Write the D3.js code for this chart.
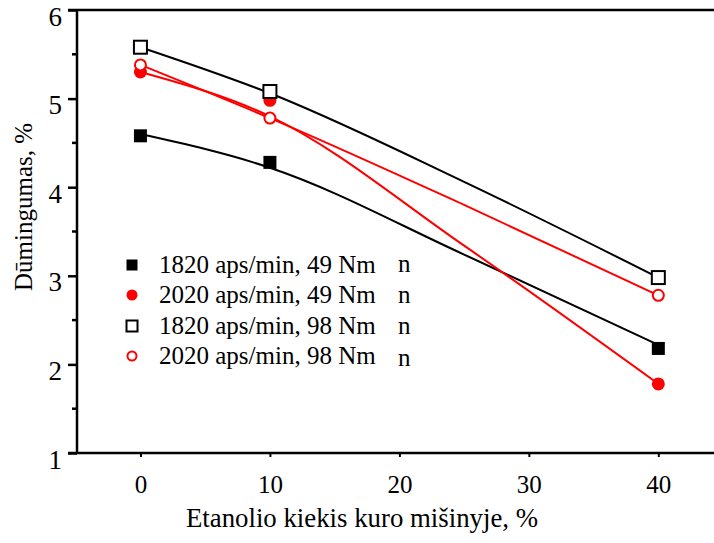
<!DOCTYPE html>
<html>
<head>
<meta charset="utf-8">
<script src="https://cdn.jsdelivr.net/npm/d3@7"></script>
<style>
  html, body { margin: 0; padding: 0; background: #fff; }
  svg { display: block; }
</style>
</head>
<body>
<svg id="chart" width="714" height="543" font-family="Liberation Serif"></svg>
<script>
// Ethanol share in the fuel blend, %
const ethanol = [0, 10, 40];

// Measured smoke opacity, %
const smoke1820_49 = [4.58, 4.28, 2.18];
const smoke2020_49 = [5.30, 4.98, 1.78];
const smoke1820_98 = [5.58, 5.08, 2.98];
const smoke2020_98 = [5.38, 4.78, 2.78];

// Smoothed trend values for each series
const trendEthanol = [0, 10, 25, 40];
const trend1820_49 = [4.60, 4.22, 3.24, 2.22];
const trend2020_49 = [5.30, 4.80, 3.34, 1.78];
const trend1820_98 = [5.58, 5.06, 4.06, 2.98];
const trend2020_98 = [5.38, 4.78, 3.80, 2.78];

const seriesLabels = [
  "1820 aps/min, 49 Nm",
  "2020 aps/min, 49 Nm",
  "1820 aps/min, 98 Nm",
  "2020 aps/min, 98 Nm"
];
const xTicks = [0, 10, 20, 30, 40];
const yTicks = [1, 2, 3, 4, 5, 6];
const yMinorTicks = [1.5, 2.5, 3.5, 4.5, 5.5];
const xTitle = "Etanolio kiekis kuro mišinyje, %";
const yTitle = "Dūmingumas, %";

const FONT = "Liberation Serif";

const series = [
  { values: smoke1820_49, trend: trend1820_49, color: "#000", shape: "square", filled: true },
  { values: smoke2020_49, trend: trend2020_49, color: "#ff0000", shape: "circle", filled: true },
  { values: smoke1820_98, trend: trend1820_98, color: "#000", shape: "square", filled: false },
  { values: smoke2020_98, trend: trend2020_98, color: "#ff0000", shape: "circle", filled: false }
];

const svg = d3.select("#chart");

const x = d3.scaleLinear().domain([-4.9, 44.3]).range([77, 714]);
const y = d3.scaleLinear().domain([1, 6]).range([453, 10]);
const axisLeft = x.range()[0];
const axisRight = x.range()[1];

// Frame: left axis and top rule
const frame = svg.append("g").attr("stroke", "#000").attr("stroke-width", 2.5).attr("fill", "none");
frame.append("line").attr("x1", axisLeft).attr("x2", axisLeft).attr("y1", y(6)).attr("y2", y(1));
frame.append("line").attr("x1", axisLeft - 9).attr("x2", axisRight).attr("y1", y(6)).attr("y2", y(6));

// Y axis with major ticks
const yAxis = svg.append("g")
  .attr("transform", `translate(${axisLeft},0)`)
  .call(d3.axisLeft(y).tickValues(yTicks).tickFormat(d3.format("d"))
    .tickSize(9).tickSizeOuter(0).tickPadding(6));
yAxis.attr("font-family", FONT).attr("font-size", 27);
yAxis.select(".domain").remove();
yAxis.selectAll(".tick line").attr("stroke-width", 2.5);
yAxis.selectAll(".tick text")
  .attr("font-family", FONT)
  .attr("font-size", 27)
  .attr("fill", "#000")
  .attr("dy", 15);

// Y minor ticks
svg.append("g").selectAll("line").data(yMinorTicks).join("line")
  .attr("x1", axisLeft - 5).attr("x2", axisLeft)
  .attr("y1", d => y(d)).attr("y2", d => y(d))
  .attr("stroke", "#000").attr("stroke-width", 2.5);

// X axis along the bottom
const xAxis = svg.append("g")
  .attr("transform", `translate(0,${y(1)})`)
  .call(d3.axisBottom(x).tickValues(xTicks).tickFormat(d3.format("d"))
    .tickSize(4).tickSizeOuter(0).tickPadding(18));
xAxis.attr("font-family", FONT).attr("font-size", 25);
xAxis.select(".domain").attr("stroke-width", 2.5)
  .attr("d", `M${axisLeft - 9},0H${axisRight}`);
xAxis.selectAll(".tick line").attr("stroke-width", 2);
xAxis.selectAll(".tick text")
  .attr("font-family", FONT)
  .attr("font-size", 25)
  .attr("fill", "#000")
  .attr("dy", "0.71em");

// Axis titles
svg.append("text")
  .attr("x", 362).attr("y", 527)
  .attr("text-anchor", "middle")
  .attr("font-family", FONT)
  .attr("font-size", 26.8)
  .text(xTitle);
svg.append("text")
  .attr("transform", "translate(32,207) rotate(-90)")
  .attr("text-anchor", "middle")
  .attr("font-family", FONT)
  .attr("font-size", 25)
  .text(yTitle);

// Trend curves
const line = d3.line()
  .x((d, i) => x(trendEthanol[i]))
  .y(d => y(d))
  .curve(d3.curveMonotoneX);
svg.append("g").selectAll("path").data(series).join("path")
  .attr("d", s => line(s.trend))
  .attr("fill", "none")
  .attr("stroke", s => s.color)
  .attr("stroke-width", 2);

// Markers
function drawMarker(g, s, cx, cy, size) {
  if (s.shape === "square") {
    g.append("rect")
      .attr("x", cx - size / 2).attr("y", cy - size / 2)
      .attr("width", size).attr("height", size)
      .attr("fill", s.filled ? s.color : "#fff")
      .attr("stroke", s.color)
      .attr("stroke-width", s.filled ? 0 : 2);
  } else {
    g.append("circle")
      .attr("cx", cx).attr("cy", cy)
      .attr("r", s.filled ? size / 2 : size / 2 - 1)
      .attr("fill", s.filled ? s.color : "#fff")
      .attr("stroke", s.color)
      .attr("stroke-width", s.filled ? 0 : 2);
  }
}
const markers = svg.append("g");
series.forEach(s => {
  s.values.forEach((v, i) => drawMarker(markers, s, x(ethanol[i]), y(v), 13));
});

// Legend
const legendRows = [265, 295, 326, 356];
const legend = svg.append("g").attr("font-family", FONT).attr("font-size", 25);
series.forEach((s, i) => {
  drawMarker(legend, s, 132, legendRows[i], 11);
  legend.append("text")
    .attr("x", 159).attr("y", legendRows[i] + 8)
    .attr("font-family", FONT)
    .attr("font-size", 25)
    .text(seriesLabels[i]);
});
const legendMarks = ["n", "n", "n", "n"];
const legendMarkRows = [272, 303, 334, 366];
legend.selectAll("text.mark").data(legendMarks).join("text")
  .attr("class", "mark")
  .attr("x", 398).attr("y", (d, i) => legendMarkRows[i])
  .attr("font-family", FONT)
  .attr("font-size", 25)
  .text(d => d);
</script>
</body>
</html>
